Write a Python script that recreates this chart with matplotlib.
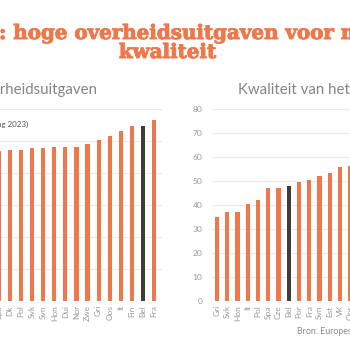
import matplotlib.pyplot as plt
import matplotlib.patheffects as pe

# overheidsuitgaven (% bbp, raming 2023)
landen_uitgaven = ['Spa', 'Dk', 'Pol', 'Svk', 'Svn', 'Hon', 'Dui', 'Nor', 'Zwe',
                   'Gri', 'Oos', 'It', 'Fin', 'Bel', 'Fra']
uitgaven = [46.8, 47.1, 47.2, 47.9, 47.9, 48.2, 48.2, 48.2, 49.0,
            50.4, 51.5, 53.1, 54.6, 54.8, 56.6]

# kwaliteit van het onderwijs
landen_kwaliteit = ['Gri', 'Svk', 'Hon', 'It', 'Pol', 'Spa', 'Cze', 'Bel', 'Por',
                    'Fra', 'Svn', 'Est', 'VK', 'Oos']
kwaliteit = [35.1, 37.1, 37.2, 40.3, 42.2, 47.0, 47.2, 48.0, 49.6,
             50.5, 51.9, 53.2, 55.7, 56.2]

oranje = '#EE784B'
donker = '#403C3C'
grijs = '#9A9A9A'
W, H = 350, 350


def kleuren(landen):
    return [donker if l == 'Bel' else oranje for l in landen]


def opmaak(ax, ymax, stap):
    ax.set_ylim(0, ymax)
    ax.set_yticks(range(0, ymax + 1, stap))
    ax.grid(axis='y', color='#EBEBEB', linewidth=0.8)
    ax.set_axisbelow(True)
    for s in ax.spines.values():
        s.set_visible(False)
    ax.tick_params(axis='both', length=0, colors=grijs, labelsize=6)
    ax.tick_params(axis='y', pad=7)
    ax.tick_params(axis='x', rotation=90, pad=3)
    for t in ax.get_xticklabels() + ax.get_yticklabels():
        t.set_fontfamily('Lato')


fig = plt.figure(figsize=(3.5, 3.5), dpi=100)

# linker grafiek (deels buiten beeld)
ax1 = fig.add_axes([-10 / W, 49 / H, 172 / W, 192 / H])
ax1.bar(range(len(uitgaven)), uitgaven, width=0.38, color=kleuren(landen_uitgaven))
ax1.set_xticks(range(len(uitgaven)))
ax1.set_xticklabels(landen_uitgaven)
ax1.set_xlim(-0.8, len(uitgaven) - 1 + 0.72)
opmaak(ax1, 60, 10)
ax1.text(38 / 172, 0.92, '(% bbp, raming 2023)', transform=ax1.transAxes,
         ha='right', va='center', fontsize=5.8, color='#555555', family='Lato')

# rechter grafiek (deels buiten beeld)
ax2 = fig.add_axes([211.9 / W, 49 / H, 153.75 / W, 192 / H])
ax2.bar(range(len(kwaliteit)), kwaliteit, width=0.42, color=kleuren(landen_kwaliteit))
ax2.set_xticks(range(len(kwaliteit)))
ax2.set_xticklabels(landen_kwaliteit)
ax2.set_xlim(-0.5, 14.5)
opmaak(ax2, 80, 10)

# titels
fig.text(97 / W, 1 - 90 / H, 'Overheidsuitgaven', ha='right', va='center',
         fontsize=10.8, color='#858585', family='Lato')
fig.text(238 / W, 1 - 90 / H, 'Kwaliteit van het onderwijs', ha='left', va='center',
         fontsize=10.8, color='#858585', family='Lato')

dik = [pe.withStroke(linewidth=0.7, foreground=oranje)]
fig.text(0, 1 - 33 / H, 'België', ha='right', va='center', path_effects=dik,
         fontsize=14.3, color=oranje, family='DejaVu Serif', weight='bold')
fig.text(-1 / W, 1 - 33 / H, ': hoge overheidsuitgaven voor matige', ha='left',
         va='center', fontsize=14.3, color=oranje, family='DejaVu Serif',
         weight='bold', path_effects=dik)
fig.text(167.5 / W, 1 - 52 / H, 'kwaliteit', ha='center', va='center',
         fontsize=14.3, color=oranje, family='DejaVu Serif', weight='bold',
         path_effects=dik)

fig.text(297 / W, 1 - 332 / H, 'Bron: Europese Commissie', ha='left', va='center',
         fontsize=6.3, color='#8A8A8A', family='Lato')

fig.savefig('out.png', dpi=100)
